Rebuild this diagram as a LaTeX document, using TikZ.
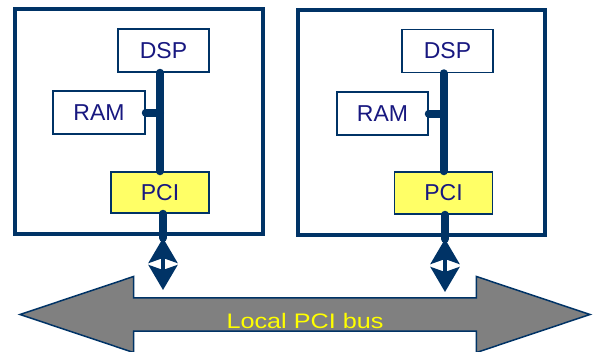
\documentclass[tikz,border=0pt]{standalone}
\usepackage{fontspec}
\setmainfont{Liberation Sans}
\usetikzlibrary{arrows.meta, shapes.arrows}
\definecolor{pcblue}{RGB}{0,51,102}
\definecolor{txtblue}{RGB}{24,24,128}
\definecolor{pciyellow}{RGB}{255,255,102}
\definecolor{busgray}{RGB}{128,128,128}
\definecolor{busyellow}{RGB}{255,255,0}
\tikzset{
x=1pt, y=-1pt, % pixel grid of the picture
frame/.style={draw=pcblue, line width=4pt, minimum width=248pt, minimum height=225pt, inner sep=0pt}, % one board
chip/.style={draw=pcblue, line width=1.5pt, fill=white, minimum width=91pt, minimum height=43pt, inner sep=0pt, text=txtblue, font=\fontsize{23}{25}\selectfont}, % parts on a board
bridge/.style={chip, fill=pciyellow, minimum width=98pt, minimum height=41pt}, % PCI bridge
link/.style={draw=pcblue, line width=8pt, line cap=round}, % local bus on the board
updown/.style={draw=pcblue, line width=4pt, {Stealth[length=25pt, width=29pt, inset=5pt]}-{Stealth[length=25pt, width=29pt, inset=5pt]}},
}

\begin{document}
\begin{tikzpicture}
        \useasboundingbox (0,0) rectangle (594,351);

        % left board
        \node[frame] (boardL) at (138.5,121) {};
        \node[chip] (dspL) at (163.5,50.5) {DSP};
        \node[chip, minimum width=92pt] (ramL) at (99,112.5) {RAM};
        \node[bridge] (pciL) at (160,192.5) {PCI};

        % right board
        \node[frame, minimum width=247pt] (boardR) at (421.5,122) {};
        \node[chip] (dspR) at (447.5,51) {DSP};
        \node[chip] (ramR) at (382.5,113.5) {RAM};
        \node[bridge, minimum height=42pt] (pciR) at (443.5,193) {PCI};

        % PCI bus
        \node[shape=double arrow, draw=pcblue, line width=1.5pt, fill=busgray,
              minimum height=570pt, minimum width=76pt, inner sep=0pt,
              double arrow head extend=18.5pt, double arrow tip angle=37,
              text=busyellow, text height=27pt, text depth=0pt,
              font=\fontsize{21}{23}\selectfont] (bus) at (305,314.5) {\scalebox{1.2}[1]{Local PCI bus}};

        \coordinate (topL) at (163,238);
        \coordinate (botL) at (163,290);
        \coordinate (topR) at (445,239);
        \coordinate (botR) at (445,292);

        \draw[link] (dspL.south -| pciL.north) -- (pciL.north)
              (ramL.east) -- (ramL.east -| pciL.north)
              (pciL.south -| topL) -- (topL);
        \draw[link] (dspR.south -| pciR.north) -- (pciR.north)
              (ramR.east) -- (ramR.east -| pciR.north)
              (pciR.south -| topR) -- (topR);

        \draw[updown] (topL) -- (botL);
        \draw[updown] (topR) -- (botR);

    \end{tikzpicture}
\end{document}
